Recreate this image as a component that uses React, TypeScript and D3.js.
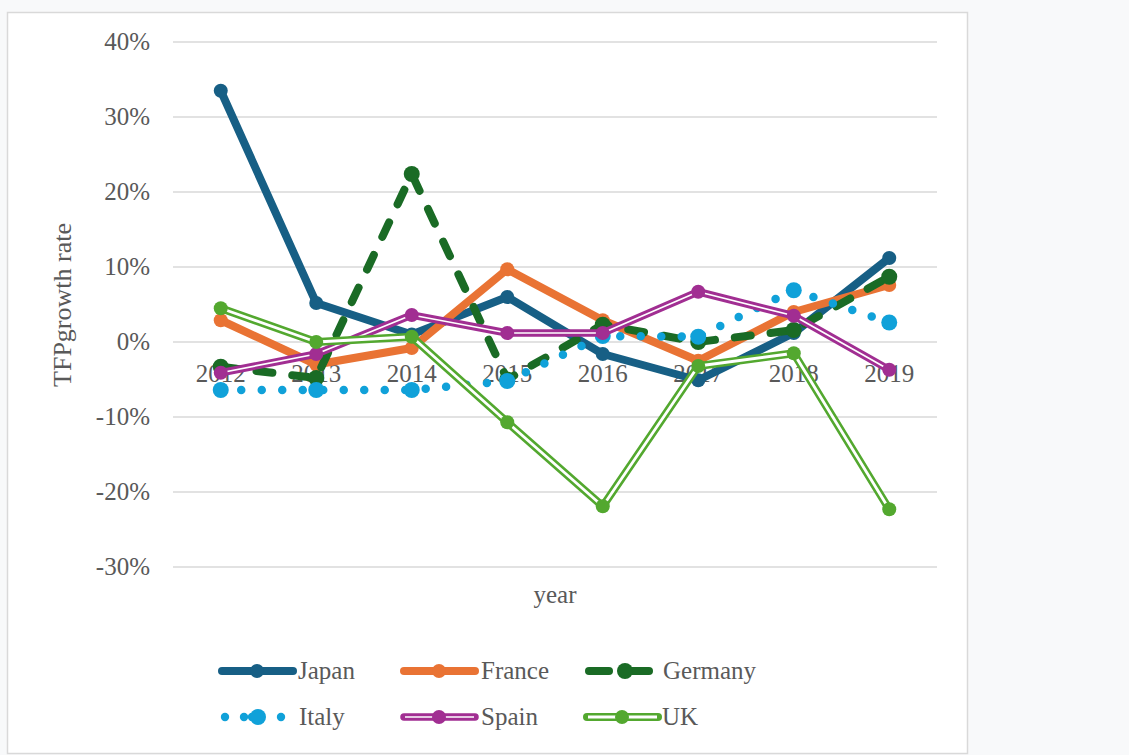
import React from "react";
import * as d3 from "d3";

const years = ["2012", "2013", "2014", "2015", "2016", "2017", "2018", "2019"];
const japan = [33.5, 5.2, 1.0, 6.0, -1.6, -5.1, 1.2, 11.2];
const france = [2.9, -3.0, -0.8, 9.7, 2.9, -2.5, 4.0, 7.6];
const germany = [-3.3, -4.8, 22.4, -5.0, 2.3, 0.0, 1.6, 8.7];
const italy = [-6.4, -6.4, -6.4, -5.2, 0.8, 0.7, 6.9, 2.6];
const spain = [-4.1, -1.6, 3.6, 1.2, 1.2, 6.7, 3.5, -3.7];
const uk = [4.5, 0.0, 0.7, -10.7, -21.9, -3.2, -1.5, -22.3];
const yTicks = [40, 30, 20, 10, 0, -10, -20, -30];

type Style = {
  name: string;
  values: number[];
  color: string;
  kind: "solid" | "dash" | "dot" | "double";
  width: number;
  inner?: number;
  r: number;
};

const series: Style[] = [
  { name: "Japan", values: japan, color: "#175f85", kind: "solid", width: 8, r: 7 },
  { name: "France", values: france, color: "#e97334", kind: "solid", width: 8, r: 7 },
  { name: "Germany", values: germany, color: "#1a6b25", kind: "dash", width: 8, r: 8 },
  { name: "Italy", values: italy, color: "#10a1d9", kind: "dot", width: 8.5, r: 8 },
  { name: "Spain", values: spain, color: "#a12e92", kind: "double", width: 7.5, inner: 1.7, r: 7 },
  { name: "UK", values: uk, color: "#53a82f", kind: "double", width: 8, inner: 2.8, r: 7 },
];

const FONT = "'Liberation Serif', 'DejaVu Serif', serif";
const TXT = "#595959";
const FS = 25;

function SeriesPath({ s, d }: { s: Style; d: string }) {
  const extra: any = {};
  if (s.kind === "dash") extra.strokeDasharray = "16 20";
  if (s.kind === "dot") extra.strokeDasharray = "0 20.5";
  return (
    <g>
      <path
        d={d}
        fill="none"
        stroke={s.color}
        strokeWidth={s.width}
        strokeLinecap="round"
        strokeLinejoin="round"
        {...extra}
      />
      {s.kind === "double" && (
        <path d={d} fill="none" stroke="#ffffff" strokeWidth={s.inner} strokeLinejoin="round" />
      )}
    </g>
  );
}

function LegendItem({ s, lx, ly, tx }: { s: Style; lx: number; ly: number; tx: number }) {
  let mark: React.ReactNode;
  let mx = lx + 35;
  if (s.kind === "dash") {
    mark = (
      <g stroke={s.color} strokeWidth={s.width} strokeLinecap="round">
        <line x1={lx + 2} x2={lx + 22} y1={ly} y2={ly} />
        <line x1={lx + 36} x2={lx + 62} y1={ly} y2={ly} />
      </g>
    );
    mx = lx + 38;
  } else if (s.kind === "dot") {
    mark = (
      <g fill={s.color}>
        {[3, 22, 30, 59].map((o) => (
          <circle key={o} cx={lx + o} cy={ly} r={4.2} />
        ))}
      </g>
    );
    mx = lx + 36;
  } else {
    mark = (
      <g>
        <line x1={lx} x2={lx + 71} y1={ly} y2={ly} stroke={s.color} strokeWidth={s.width} strokeLinecap="round" />
        {s.kind === "double" && (
          <line x1={lx + 1} x2={lx + 70} y1={ly} y2={ly} stroke="#fff" strokeWidth={s.inner} />
        )}
      </g>
    );
  }
  return (
    <g>
      {mark}
      <circle cx={mx} cy={ly} r={s.r} fill={s.color} />
      <text x={tx} y={ly + 8} fontSize={FS} fill={TXT}>
        {s.name}
      </text>
    </g>
  );
}

export default function App() {
  const W = 1129;
  const H = 755;
  const x = d3.scalePoint<string>().domain(years).range([173, 937]).padding(0.5);
  const y = d3.scaleLinear().domain([-30, 40]).range([567, 42]);
  const line = d3
    .line<number>()
    .x((_, i) => x(years[i]) as number)
    .y((v) => y(v));

  const legendPos = [
    { lx: 222, ly: 671, tx: 298 },
    { lx: 404, ly: 671, tx: 481 },
    { lx: 587, ly: 671, tx: 663 },
    { lx: 222, ly: 717, tx: 299 },
    { lx: 404, ly: 717, tx: 481 },
    { lx: 587, ly: 717, tx: 662 },
  ];

  return (
    <svg
      width={W}
      height={H}
      style={{ position: "absolute", left: 0, top: 0, display: "block" }}
      fontFamily={FONT}
    >
      <rect x={0} y={0} width={W} height={H} fill="#f8f9fa" />
      <rect x={7.5} y={12.5} width={960} height={741} fill="#ffffff" stroke="#d9d9d9" strokeWidth={1.5} />

      {yTicks.map((t) => (
        <g key={t}>
          <line x1={173} x2={937} y1={y(t)} y2={y(t)} stroke="#d9d9d9" strokeWidth={1.5} />
          <text x={150} y={y(t) + 8} textAnchor="end" fontSize={FS} fill={TXT}>
            {t}%
          </text>
        </g>
      ))}

      {years.map((yr) => (
        <text key={yr} x={x(yr)} y={382} textAnchor="middle" fontSize={FS} fill={TXT}>
          {yr}
        </text>
      ))}

      <text transform={`translate(71,305) rotate(-90)`} textAnchor="middle" fontSize={26} fill={TXT}>
        TFPgrowth rate
      </text>
      <text x={555} y={603} textAnchor="middle" fontSize={FS} fill={TXT}>
        year
      </text>

      {series.map((s) => {
        const d = line(s.values) as string;
        return (
          <g key={s.name}>
            <SeriesPath s={s} d={d} />
            {s.values.map((v, i) => (
              <circle key={i} cx={x(years[i])} cy={y(v)} r={s.r} fill={s.color} />
            ))}
          </g>
        );
      })}

      {series.map((s, i) => (
        <LegendItem key={s.name} s={s} {...legendPos[i]} />
      ))}
    </svg>
  );
}
